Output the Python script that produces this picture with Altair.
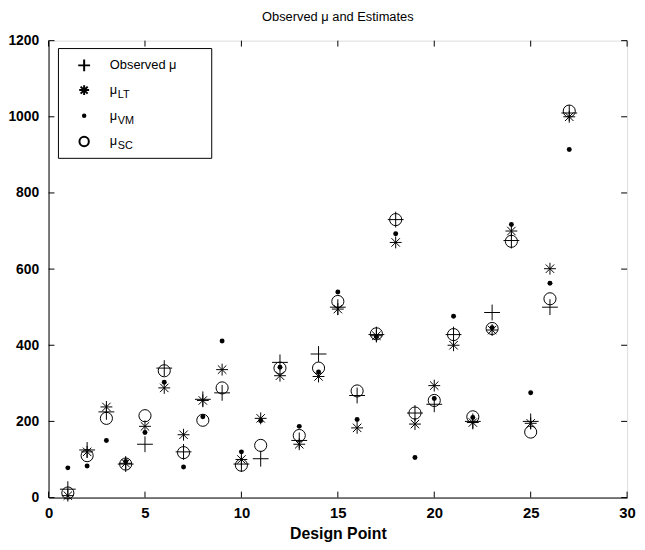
import altair as alt
import pandas as pd

# ---- data ----
points = list(range(1, 28))
observed = [22, 125, 225, 88, 140, 340, 120, 258, 275, 88, 102, 355, 150, 377, 500,
            268, 428, 730, 222, 245, 428, 200, 486, 675, 200, 500, 1010]
mu_lt = [5, 120, 238, 90, 187, 288, 165, 255, 336, 100, 208, 320, 140, 318, 495,
         183, 425, 670, 193, 294, 400, 197, 440, 700, 195, 601, 1000]
mu_vm = [78, 83, 150, 95, 171, 303, 80, 212, 411, 120, 202, 342, 187, 330, 540,
         205, 422, 693, 105, 260, 476, 210, 446, 717, 275, 563, 914]
mu_sc = [12, 110, 208, 88, 215, 333, 118, 203, 288, 85, 137, 340, 163, 340, 515,
         280, 430, 730, 222, 255, 428, 212, 444, 673, 172, 522, 1015]

x_ticks = [0, 5, 10, 15, 20, 25, 30]
y_ticks = [0, 200, 400, 600, 800, 1000, 1200]
title_text = "Observed \u03bc and Estimates"
x_title = "Design Point"
legend_main = ["Observed \u03bc", "\u03bc", "\u03bc", "\u03bc"]
legend_sub = ["", "LT", "VM", "SC"]

# ---- layout / style ----
W, H = 585, 462
FONT = "Liberation Sans"
PLUS = "M-1,0L1,0M0,-1L0,1"
STAR = "M-1,0L1,0M0,-1L0,1M-0.71,-0.71L0.71,0.71M-0.71,0.71L0.71,-0.71"

df = pd.DataFrame({"point": points, "observed": observed, "lt": mu_lt,
                   "vm": mu_vm, "sc": mu_sc})

xscale = alt.Scale(domain=[0, 30], nice=False, zero=False)
yscale = alt.Scale(domain=[0, 1200], nice=False)
xaxis = alt.Axis(values=x_ticks, ticks=False, grid=False, labelFlush=False,
                 labelFontSize=15, labelFont=FONT, labelFontWeight="bold",
                 labelPadding=8, format="d",
                 titleFont=FONT, titleFontSize=16, titleFontWeight="bold",
                 titlePadding=5, domainColor="black", labelColor="black",
                 titleColor="black", labelOverlap=False)
yaxis = alt.Axis(values=y_ticks, ticks=False, grid=False, labelFontSize=14,
                 labelFont=FONT, labelFontWeight="bold", labelPadding=10,
                 format="d", domainColor="black",
                 labelColor="black", labelOverlap=False)


def X(field):
    return alt.X(f"{field}:Q", scale=xscale, axis=xaxis, title=x_title)


def Y(field):
    return alt.Y(f"{field}:Q", scale=yscale, axis=yaxis, title=None)


base = alt.Chart(df)
obs_layer = base.mark_point(shape=PLUS, size=256, filled=False, color="black",
                            strokeWidth=1, opacity=1).encode(x=X("point"), y=Y("observed"))
lt_layer = base.mark_point(shape=STAR, size=144, filled=False, color="black",
                           strokeWidth=1, opacity=1).encode(x=X("point"), y=Y("lt"))
vm_layer = base.mark_point(shape="circle", size=25, filled=True, color="black",
                           opacity=1).encode(x=X("point"), y=Y("vm"))
sc_layer = base.mark_point(shape="circle", size=150, filled=False, color="black",
                           strokeWidth=1, opacity=1).encode(x=X("point"), y=Y("sc"))

# inward ticks on all four sides
xt = alt.Chart(pd.DataFrame({"t": x_ticks}))
yt = alt.Chart(pd.DataFrame({"v": y_ticks}))
TL = 6
tick_layers = [
    xt.mark_rule(color="black").encode(x=X("t"), y=alt.value(H), y2=alt.value(H - TL)),
    xt.mark_rule(color="black").encode(x=X("t"), y=alt.value(0), y2=alt.value(TL)),
    yt.mark_rule(color="black").encode(y=Y("v"), x=alt.value(0), x2=alt.value(TL)),
    yt.mark_rule(color="black").encode(y=Y("v"), x=alt.value(W), x2=alt.value(W - TL)),
]

# legend drawn by hand (for the subscripts)
one = alt.Chart(pd.DataFrame({"k": [0]}))
legend_layers = [
    one.mark_rect(fill="white", stroke="black", strokeWidth=1).encode(
        x=alt.value(10), x2=alt.value(165), y=alt.value(8), y2=alt.value(119))
]
rows_y = [25, 50, 76, 102]
mk_x = 36
legend_layers += [
    one.mark_point(shape=PLUS, size=144, filled=False, color="black", opacity=1).encode(
        x=alt.value(mk_x), y=alt.value(rows_y[0])),
    one.mark_point(shape=STAR, size=100, filled=False, color="black", opacity=1).encode(
        x=alt.value(mk_x), y=alt.value(rows_y[1])),
    one.mark_point(shape="circle", size=20, filled=True, color="black", opacity=1).encode(
        x=alt.value(mk_x), y=alt.value(rows_y[2])),
    one.mark_point(shape="circle", size=90, filled=False, color="black", opacity=1).encode(
        x=alt.value(mk_x), y=alt.value(rows_y[3])),
]
for i, (m, s) in enumerate(zip(legend_main, legend_sub)):
    legend_layers.append(
        one.mark_text(align="left", baseline="middle", font=FONT, fontSize=13,
                      color="black").encode(x=alt.value(62), y=alt.value(rows_y[i]),
                                            text=alt.value(m)))
    if s:
        legend_layers.append(
            one.mark_text(align="left", baseline="middle", font=FONT, fontSize=11,
                          color="black").encode(x=alt.value(70), y=alt.value(rows_y[i] + 5),
                                                text=alt.value(s)))

chart = alt.layer(
    obs_layer, lt_layer, vm_layer, sc_layer, *tick_layers, *legend_layers
).properties(
    width=W, height=H,
    title=alt.TitleParams(title_text, font=FONT, fontSize=13, fontWeight="normal",
                          color="black", anchor="middle", offset=10),
    autosize=alt.AutoSizeParams(type="none"),
    padding={"left": 41, "top": 30, "right": 10, "bottom": 48},
).configure_view(
    stroke="black", strokeWidth=1
).configure(background="white")

chart.save("out.html", embed_options={"renderer": "svg", "actions": False})
